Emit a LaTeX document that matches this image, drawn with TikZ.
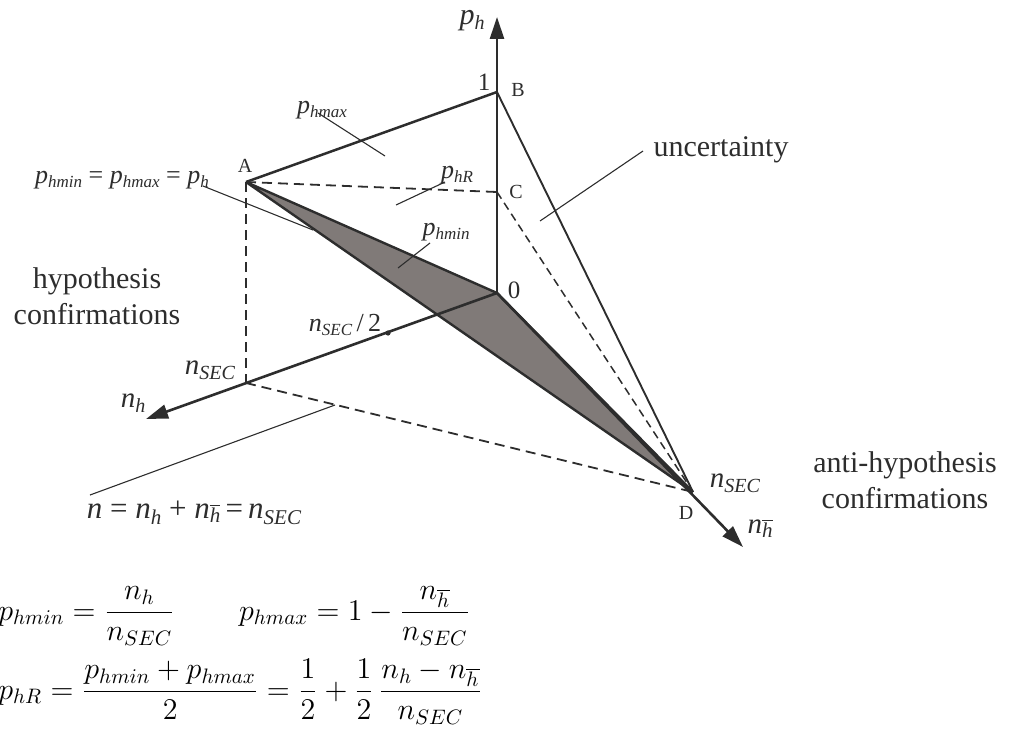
\documentclass[tikz,border=0pt]{standalone}
\usepackage{fontspec}
\setmainfont{Liberation Serif}
\usetikzlibrary{arrows.meta}
\definecolor{ink}{RGB}{45,45,45}
\definecolor{shade}{RGB}{128,122,120}
\newcommand\plab[1]{{\fontsize{13}{15}\selectfont\itshape p\raisebox{-0.35ex}{\fontsize{8.5}{10}\selectfont #1}}}
\newcommand\nsec[2]{{\fontsize{#1}{#1}\selectfont\itshape n\raisebox{-0.4ex}{\fontsize{#2}{#2}\selectfont SEC}}}
\newcommand\hbarsub{\raisebox{-0.4ex}{\fontsize{10.5}{12}\selectfont$\overline{\mbox{\itshape h}}$}}
\begin{document}
\begin{tikzpicture}[x=0.5pt,y=-0.5pt, line join=miter,
  every node/.style={text=ink, inner sep=0pt},
  axis/.style={draw=ink, line width=1.3pt, -{Triangle[length=11pt,width=7pt]}},
  edge/.style={draw=ink, line width=1.25pt},
  thinedge/.style={draw=ink, line width=0.95pt},
  dashA/.style={draw=ink, line width=0.9pt, dash pattern=on 5pt off 3pt},
  dashB/.style={draw=ink, line width=0.75pt, dash pattern=on 4pt off 2.5pt},
  leader/.style={draw=ink, line width=0.55pt},
  bigtext/.style={font=\fontsize{15}{18}\selectfont, align=center},
  ptlab/.style={font=\fontsize{10}{12}\selectfont},
  numlab/.style={font=\fontsize{12.5}{14}\selectfont},
  formula/.style={anchor=base west, text=black, font=\fontsize{14.4}{17}\selectfont},
]
\useasboundingbox (0,0) rectangle (1021,733);
\coordinate (O) at (497,293);
\coordinate (B) at (497,92);
\coordinate (C) at (497,192);
\coordinate (A) at (246,182);
\coordinate (N) at (246,383);
\coordinate (D) at (693,492);
\coordinate (half) at (388,333);
\coordinate (ph) at (497,17);
\coordinate (nh) at (146,419);
\coordinate (nb) at (743,547);

% shaded face
\filldraw[fill=shade, draw=ink, line width=1.2pt] (A) -- (O) -- (D) -- cycle;
% dashed edges
\draw[dashA] (A) -- (C);
\draw[dashA] (A) -- (N);
\draw[dashA] (N) -- (D);
\draw[dashB] (C) -- (D);
% solid edges
\draw[edge] (A) -- (B);
\draw[thinedge] (B) -- (D);
% axes
\draw[axis] (O) -- (ph);
\draw[axis] (O) -- (nh);
\draw[axis] (O) -- (nb);
\fill[ink] (half) circle[radius=1.3pt];

% leader end points
\coordinate (q1a) at (318,113); \coordinate (q1b) at (385,156);
\coordinate (q2a) at (445,182); \coordinate (q2b) at (396,205);
\coordinate (q3a) at (430,243); \coordinate (q3b) at (398,268);
\coordinate (q4a) at (203,186); \coordinate (q4b) at (313,230);
\coordinate (q5a) at (643,151); \coordinate (q5b) at (540,221);
\coordinate (q6a) at (90,495);  \coordinate (q6b) at (335,405);
\draw[leader] (q1a) -- (q1b);
\draw[leader] (q2a) -- (q2b);
\draw[leader] (q3a) -- (q3b);
\draw[leader] (q4a) -- (q4b);
\draw[leader] (q5a) -- (q5b);
\draw[leader] (q6a) -- (q6b);

% labels
\node (Lph) at (472,21) {{\fontsize{15}{17}\selectfont\itshape p\raisebox{-0.35ex}{\fontsize{10}{12}\selectfont h}}};
\node[numlab] (L1) at (484,82) {1};
\node[ptlab] (LB) at (518,90) {B};
\node[ptlab] (LC) at (516,192) {C};
\node[ptlab] (LA) at (245,166) {A};
\node[numlab] (L0) at (514,290) {0};
\node[ptlab] (LD) at (686,513) {D};
\node (LnD) at (735,483) {\nsec{14.5}{10}};
\node (Lnb) at (760,528) {{\fontsize{14.5}{16}\selectfont\itshape n}\hbarsub};
\node[bigtext] (Lunc) at (721,150) {uncertainty};
\node[bigtext] (Lanti) at (905,480) {anti-hypothesis\\confirmations};
\node[bigtext] (Lhyp) at (97,296) {hypothesis\\confirmations};
\node (LnS) at (210,370) {\nsec{14.5}{10}};
\node (Lnh) at (133,403) {{\fontsize{14.5}{16}\selectfont\itshape n\raisebox{-0.4ex}{\fontsize{10}{12}\selectfont h}}};
\node (Lhalf) at (345,325) {\nsec{13}{8.5}{\fontsize{13}{15}\selectfont\,/\,2}};
\node (Lnsum) at (194,513) {{\fontsize{15.5}{17}\selectfont\itshape n \upshape= \itshape n\raisebox{-0.4ex}{\fontsize{10.5}{12}\selectfont h} \upshape+ \itshape n}\hbarsub{\fontsize{15.5}{17}\selectfont\,=\,}\nsec{15.5}{10.5}};
\node (Lpmax) at (322,110) {\plab{hmax}};
\node (LpR) at (457,175) {\plab{hR}};
\node (Lpmin) at (446,232) {\plab{hmin}};
\node (Leq) at (122,180) {\plab{hmin}{\fontsize{13}{15}\selectfont\ =\ }\plab{hmax}{\fontsize{13}{15}\selectfont\ =\ }\plab{h}};

% formulas
\node[formula] (F1) at (-2,620)
  {\scalebox{1.045}{$\displaystyle p_{hmin} = \frac{n_h}{n_{SEC}} \qquad\hspace{2pt} p_{hmax} = 1 - \frac{n_{\overline{h}}}{n_{SEC}}$}};
\node[formula] (F2) at (-2,699)
  {\scalebox{1.045}{$\displaystyle p_{hR} = \frac{p_{hmin} + p_{hmax}}{2} = \frac{1}{2} + \frac{1}{2}\,\frac{n_h - n_{\overline{h}}}{n_{SEC}}$}};
\end{tikzpicture}
\end{document}
